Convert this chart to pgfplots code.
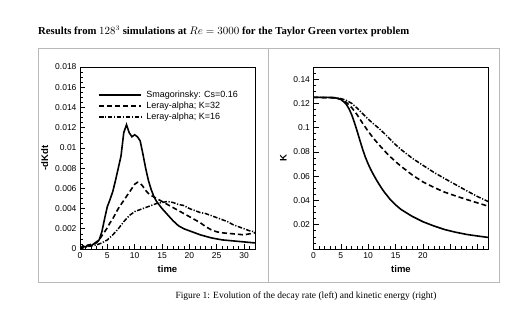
\documentclass[border=0pt]{standalone}
\usepackage{fontspec}
\setmainfont{Liberation Serif}
\setsansfont{Liberation Sans}
\usepackage{pgfplots}
\pgfplotsset{compat=1.18}

\pgfplotstableread{
t v
0 0
0.5 0.0003
1 0.0002
1.5 0.0004
2 0.0003
2.5 0.0005
3 0.0006
3.5 0.0009
4 0.0017
4.5 0.0030
5 0.0042
5.5 0.0049
6 0.0057
6.5 0.0068
7 0.0080
7.5 0.0092
8 0.0115
8.5 0.0123
9 0.0115
9.5 0.0111
10 0.0113
10.5 0.0111
11 0.0107
11.5 0.0094
12 0.0080
12.5 0.0068
13 0.0059
13.5 0.0052
14 0.0047
15 0.0040
16 0.0034
17 0.0028
18 0.0023
19 0.0020
20 0.0018
21 0.0016
22 0.0014
24 0.0011
26 0.0009
28 0.0008
30 0.0007
32 0.0006
}\dkSmag

\pgfplotstableread{
t v
0 0
0.5 0.0002
1 0.0004
1.5 0.0003
2 0.0005
2.5 0.0005
3 0.0007
3.5 0.0009
4 0.0013
4.5 0.0017
5 0.0021
5.5 0.0026
6 0.0030
6.5 0.0035
7 0.0040
7.5 0.0044
8 0.0048
8.5 0.0052
9 0.0056
9.5 0.0060
10 0.0064
10.5 0.0066
11 0.0065
11.5 0.0062
12 0.0058
12.5 0.0055
13 0.0053
14 0.0050
15 0.0047
16 0.0044
17 0.0041
18 0.0038
19 0.0035
20 0.0032
21 0.0029
22 0.0026
23 0.0022
24 0.0019
25 0.0017
26 0.0016
28 0.0015
30 0.0014
31 0.0015
32 0.0016
}\dkThirtyTwo

\pgfplotstableread{
t v
0 0
1 0.0002
2 0.0003
3 0.0004
4 0.0006
5 0.0009
6 0.0014
7 0.0020
8 0.0027
9 0.0033
10 0.0037
11 0.0039
12 0.0041
13 0.0043
14 0.0045
15 0.0046
16 0.0047
17 0.0046
18 0.0044
19 0.0043
20 0.0040
21 0.0038
22 0.0036
23 0.0035
24 0.0033
25 0.0031
26 0.0029
27 0.0027
28 0.0024
29 0.0022
30 0.0020
31 0.0018
32 0.0017
}\dkSixteen

\pgfplotstableread{
t k
0 0.125
3 0.125
4 0.1246
5 0.1232
5.5 0.1215
6 0.1192
6.5 0.1155
7 0.1105
7.5 0.1040
8 0.0968
8.5 0.0893
9 0.0820
9.5 0.0755
10 0.0700
10.5 0.0652
11 0.0610
11.5 0.0570
12 0.0533
12.5 0.0498
13 0.0466
14 0.0410
15 0.0364
16 0.0326
18 0.0270
20 0.0225
22 0.0190
24 0.0160
26 0.0138
28 0.0120
30 0.0107
32 0.0095
}\kSmag

\pgfplotstableread{
t k
0 0.125
4 0.1246
5 0.1235
6 0.1208
7 0.1165
8 0.1105
9 0.1035
10 0.0970
11 0.0910
12 0.0858
13 0.0808
14 0.0762
15 0.0720
16 0.0682
18 0.0612
20 0.0553
22 0.0508
24 0.0468
26 0.0437
28 0.0408
30 0.0380
32 0.0352
}\kThirtyTwo

\pgfplotstableread{
t k
0 0.125
4 0.1246
5 0.1240
6 0.1225
7 0.1200
8 0.1160
9 0.1115
10 0.1070
11 0.1030
12 0.0993
13 0.0950
14 0.0905
15 0.0860
16 0.0820
18 0.0750
20 0.0690
22 0.0632
24 0.0580
26 0.0530
28 0.0480
30 0.0432
32 0.0390
}\kSixteen

\pgfplotsset{
  tec/.style={
    scale only axis, width=175pt, height=182pt,
    axis line style={line width=0.8pt},
    tick align=inside, tick pos=left,
    major tick length=5pt, minor tick length=2.5pt,
    tick style={black, line width=0.6pt},
    ticklabel style={font=\sffamily\fontsize{8.5}{9.5}\selectfont},
    /pgf/number format/assume math mode=true,
    label style={font=\sffamily\bfseries\fontsize{9.5}{11}\selectfont},
    xmin=0, xmax=32,
    xtick={0,5,...,30},
    minor xtick={1,2,3,4,6,7,8,9,11,12,13,14,16,17,18,19,21,22,23,24,26,27,28,29,31},
    scaled y ticks=false,
    yticklabel style={/pgf/number format/fixed, /pgf/number format/precision=3},
    xlabel={time},
    solidl/.style={black, line width=1.6pt},
    dashedl/.style={black, line width=1.6pt, dash pattern=on 5pt off 3pt},
    dashdotl/.style={black, line width=1.5pt, dash pattern=on 4.5pt off 1.6pt on 1.2pt off 1.6pt},
  }
}

\begin{document}
\begin{tikzpicture}[x=1pt,y=1pt]
\path[use as bounding box] (0,0) rectangle (529,323);
\draw[gray!55, line width=0.8pt] (38,41) rectangle (499,275);
\draw[gray!55, line width=0.8pt] (268.5,41) -- (268.5,275);
\node[anchor=base west, inner sep=0pt, font=\bfseries\fontsize{10.7}{12}\selectfont] at (38,288.5)
  {Results from $128^3$ simulations at $Re=3000$ for the Taylor Green vortex problem};
\node[anchor=base, inner sep=0pt, font=\fontsize{9.5}{11}\selectfont] at (306,24)
  {Figure 1: Evolution of the decay rate (left) and kinetic energy (right)};

\begin{axis}[tec, at={(80pt,74pt)}, anchor=south west,
  ymin=0, ymax=0.018,
  ytick={0,0.002,...,0.018},
  minor y tick num=3,
  ylabel={-dKdt},
  legend style={at={(0.086,0.89)}, anchor=north west, draw=none, fill=none,
    font=\sffamily\fontsize{9}{10}\selectfont, row sep=0pt, nodes={inner sep=1.5pt}},
  legend cell align=left,
  legend image code/.code={\draw[#1] (0pt,0pt) -- (42pt,0pt); \path (45pt,0pt);},
]
\addplot[solidl] table[x=t,y=v] {\dkSmag};
\addlegendentry{Smagorinsky: Cs=0.16}
\addplot[dashedl] table[x=t,y=v] {\dkThirtyTwo};
\addlegendentry{Leray-alpha; K=32}
\addplot[dashdotl] table[x=t,y=v] {\dkSixteen};
\addlegendentry{Leray-alpha; K=16}
\end{axis}

\begin{axis}[tec, at={(313.5pt,74pt)}, anchor=south west,
  ymin=0, ymax=0.15,
  ytick={0.02,0.04,...,0.14},
  minor ytick={0.005,0.01,0.015,0.025,0.03,0.035,0.045,0.05,0.055,0.065,0.07,0.075,0.085,0.09,0.095,0.105,0.11,0.115,0.125,0.13,0.135,0.145},
  xticklabels={0,5,10,15,20,,},
  ylabel={K},
]
\addplot[solidl] table[x=t,y=k] {\kSmag};
\addplot[dashedl] table[x=t,y=k] {\kThirtyTwo};
\addplot[dashdotl] table[x=t,y=k] {\kSixteen};
\end{axis}
\end{tikzpicture}
\end{document}
